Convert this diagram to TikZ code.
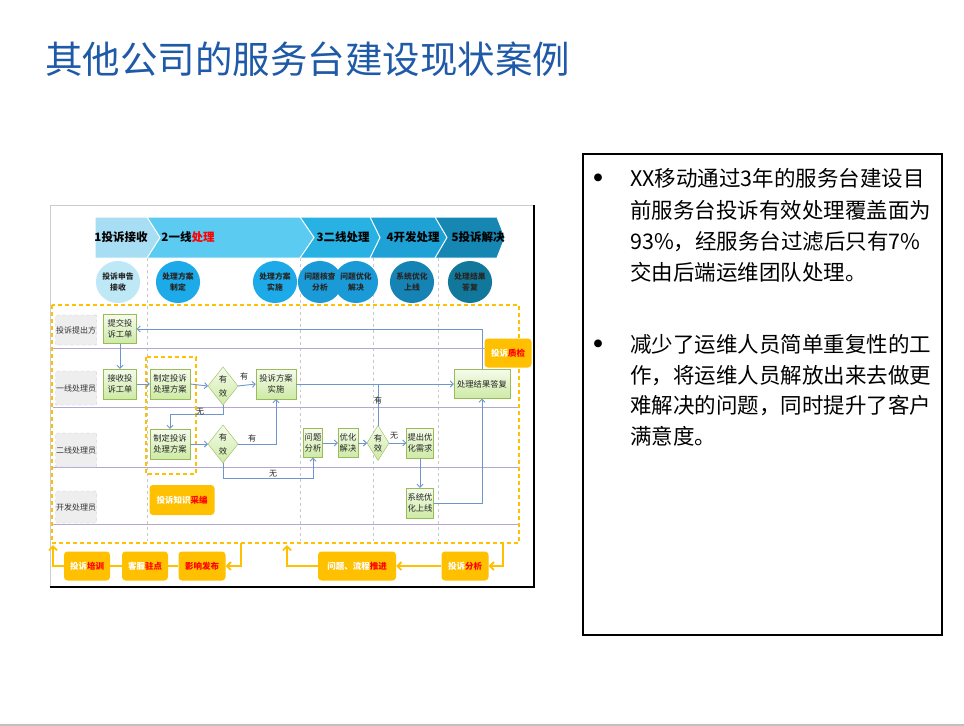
\documentclass[tikz,border=0pt]{standalone}
\usepackage{fontspec}
\setmainfont{Noto Sans CJK SC}
\usetikzlibrary{arrows.meta,shapes.geometric,calc}
\definecolor{titleblue}{RGB}{30,90,168}
\definecolor{flowblue}{RGB}{110,150,205}
\definecolor{ora}{RGB}{255,192,0}
\definecolor{lanepurple}{RGB}{180,165,210}
\definecolor{procedge}{RGB}{155,187,89}
\definecolor{proctop}{RGB}{245,251,235}
\definecolor{procbot}{RGB}{205,234,165}
\definecolor{chA}{RGB}{168,222,243}
\definecolor{chB}{RGB}{92,203,241}
\definecolor{chC}{RGB}{40,178,228}
\definecolor{chD}{RGB}{30,162,214}
\definecolor{chE}{RGB}{22,134,178}
\definecolor{cA}{RGB}{190,232,246}
\definecolor{cB}{RGB}{28,170,232}
\definecolor{cC}{RGB}{26,154,214}
\definecolor{cD}{RGB}{22,131,181}
\definecolor{cE}{RGB}{18,120,155}
\definecolor{vred}{RGB}{255,0,0}
\definecolor{gridgray}{RGB}{200,200,200}
\definecolor{lanefill}{RGB}{238,238,238}
\definecolor{laneedge}{RGB}{200,188,222}
\definecolor{pageline}{RGB}{192,196,184}
\tikzset{
  proc/.style={draw=procedge, top color=proctop, bottom color=procbot, inner sep=0pt,
    align=center, font=\fontsize{8.3bp}{10.5bp}\selectfont, text=black!85},
  dia/.style={diamond, draw=procedge, top color=proctop, bottom color=procbot, inner sep=0pt,
    outer sep=0pt, align=center, font=\fontsize{8.3bp}{10bp}\selectfont, text=black!85},
  lanebox/.style={draw=laneedge, dashed, fill=lanefill, rounded corners=1bp, inner sep=0pt,
    minimum width=41bp, font=\fontsize{8bp}{10bp}\selectfont, text=black!80},
  obox/.style={fill=ora, rounded corners=3.5bp, inner sep=0pt, text=white,
    font=\bfseries\fontsize{8.5bp}{10bp}\selectfont},
  phase/.style={ellipse, inner sep=0pt, minimum width=33bp, minimum height=42bp, align=center,
    font=\bfseries\fontsize{7.8bp}{10.5bp}\selectfont, text=black!85},
  hdr/.style={font=\bfseries\fontsize{11.5bp}{13bp}\selectfont, text=black, inner sep=0pt},
  lbl/.style={font=\fontsize{8bp}{9bp}\selectfont, text=black!85, inner sep=0pt},
  flow/.style={draw=flowblue, line width=0.9bp, -{Straight Barb[length=3bp,width=6bp]}},
  flowline/.style={draw=flowblue, line width=0.9bp},
  oflow/.style={draw=ora, line width=1.8bp, -{Straight Barb[length=4bp,width=8bp]}},
  oline/.style={draw=ora, line width=1.8bp},
  rt/.style={anchor=base west, inner sep=0pt, font=\fontsize{21.5bp}{26bp}\selectfont, text=black},
  bul/.style={anchor=base, inner sep=0pt, font=\bfseries\fontsize{28bp}{30bp}\selectfont, text=black}
}
\begin{document}
\begin{tikzpicture}[x=1bp,y=-1bp]
\useasboundingbox (0,0) rectangle (964,726);
\fill[white] (0,0) rectangle (964,726);
% title
\node[anchor=base west, inner sep=0pt, text=titleblue, font=\fontsize{37.5bp}{40bp}\selectfont] (title) at (45,74) {其他公司的服务台建设现状案例};
% page bottom line
\draw[pageline, line width=1.5bp] (0,725) -- (964,725);

% ---------------- right text box
\draw[line width=2.5bp] (583,154) rectangle (942,635);
\node[bul] (b1) at (598,189) {•};
\node[rt] (t1) at (630,187) {XX移动通过3年的服务台建设目};
\node[rt] (t2) at (630,218) {前服务台投诉有效处理覆盖面为};
\node[rt] (t3) at (630,249) {93\%，经服务台过滤后只有7\%};
\node[rt] (t4) at (630,280) {交由后端运维团队处理。};
\node[bul] (b2) at (598,354) {•};
\node[rt] (t5) at (630,352) {减少了运维人员简单重复性的工};
\node[rt] (t6) at (630,383) {作，将运维人员解放出来去做更};
\node[rt] (t7) at (630,413) {难解决的问题，同时提升了客户};
\node[rt] (t8) at (630,444) {满意度。};

% ---------------- diagram frame
\draw[gray!40, line width=0.5bp] (50,205) rectangle (534,587);
\draw[black, line width=1.2bp] (534,205) -- (534,587) -- (50,587);

% chevron band
\fill[chE, draw=white, line width=1bp] (435,217) -- (497,217) -- (505,237.5) -- (497,258) -- (435,258) -- cycle;
\fill[chD, draw=white, line width=1bp] (370,217) -- (435,217) -- (447,237.5) -- (435,258) -- (370,258) -- cycle;
\fill[chC, draw=white, line width=1bp] (300,217) -- (370,217) -- (380,237.5) -- (370,258) -- (300,258) -- cycle;
\fill[chB, draw=white, line width=1bp] (147,217) -- (300,217) -- (314,237.5) -- (300,258) -- (147,258) -- cycle;
\fill[chA, draw=white, line width=1bp] (95,217) -- (147,217) -- (160,237.5) -- (147,258) -- (95,258) -- cycle;
\node[hdr] (h1) at (121,237.5) {1投诉接收};
\node[hdr] (h2) at (188,237.5) {2一线\textcolor{vred}{处理}};
\node[hdr] (h3) at (343,237.5) {3二线处理};
\node[hdr] (h4) at (413,237.5) {4开发处理};
\node[hdr] (h5) at (478,237.5) {5投诉解决};

% phase grid (dashed verticals)
\foreach \gx in {147,300,373,438}
  \draw[gridgray, dashed, line width=0.6bp] (\gx,258) -- (\gx,541);

% phase circles
\node[phase, fill=cA] (c1) at (118,282) {投诉申告\\接收};
\node[phase, fill=cB] (c2) at (178,282) {处理方案\\制定};
\node[phase, fill=cB] (c3) at (275,282) {处理方案\\实施};
\node[phase, fill=cC] (c4) at (320,282) {问题核查\\分析};
\node[phase, fill=cC] (c5) at (356,282) {问题优化\\解决};
\node[phase, fill=cD] (c6) at (412,282) {系统优化\\上线};
\node[phase, fill=cE] (c7) at (470,282) {处理结果\\答复};

% lanes
\foreach \ly in {348,407,467,524}
  \draw[lanepurple, line width=0.9bp] (53,\ly) -- (519,\ly);
\node[lanebox, minimum height=30bp] (L1) at (76,330) {投诉提出方};
\node[lanebox, minimum height=34bp] (L2) at (76,388) {一线处理员};
\node[lanebox, minimum height=34bp] (L3) at (76,450) {二线处理员};
\node[lanebox, minimum height=32bp] (L4) at (76,507) {开发处理员};

% orange dashed frames
\draw[ora, line width=1.3bp, dash pattern=on 4bp off 3bp] (52,305) rectangle (519,543);
\draw[ora, line width=1.3bp, dash pattern=on 4bp off 3bp] (146,357) rectangle (196,474);

% process boxes
\node[proc, minimum width=33bp, minimum height=29bp] (sub) at (120,329) {提交投\\诉工单};
\node[proc, minimum width=33bp, minimum height=30bp] (rcv) at (120,384) {接收投\\诉工单};
\node[proc, minimum width=40bp, minimum height=30bp] (plan1) at (170,384) {制定投诉\\处理方案};
\node[dia, aspect=0.75, minimum width=30bp, minimum height=38bp] (d1) at (223,386) {有\\[4bp]效};
\node[proc, minimum width=40bp, minimum height=30bp] (impl) at (276,384) {投诉方案\\实施};
\node[proc, minimum width=56bp, minimum height=29bp] (res) at (482,384) {处理结果答复};
\node[proc, minimum width=40bp, minimum height=30bp] (plan2) at (170,444) {制定投诉\\处理方案};
\node[dia, aspect=0.75, minimum width=30bp, minimum height=38bp] (d2) at (223,444) {有\\[4bp]效};
\node[proc, minimum width=19bp, minimum height=29bp] (ana) at (313,443) {问题\\分析};
\node[proc, minimum width=20bp, minimum height=29bp] (opt) at (348,443) {优化\\解决};
\node[dia, aspect=0.6, minimum width=22bp, minimum height=35bp] (d3) at (378,443) {有\\效};
\node[proc, minimum width=27bp, minimum height=30bp] (req) at (420,443) {提出优\\化需求};
\node[proc, minimum width=27bp, minimum height=30bp] (sys) at (420,503) {系统优\\化上线};

% orange boxes
\node[obox, minimum width=47bp, minimum height=29bp] (qc) at (508,353) {投诉\textcolor{vred}{质检}};
\node[obox, minimum width=65bp, minimum height=30bp] (kb) at (182,500) {投诉知识\textcolor{vred}{采编}};
\node[obox, minimum width=46bp, minimum height=29bp] (otr) at (87,566) {投诉\textcolor{vred}{培训}};
\node[obox, minimum width=46bp, minimum height=29bp] (okf) at (145,566) {客服\textcolor{vred}{驻点}};
\node[obox, minimum width=47bp, minimum height=29bp] (oimp) at (202,566) {\textcolor{vred}{影响发布}};
\node[obox, minimum width=78bp, minimum height=29bp] (opush) at (357,566) {问题、流程\textcolor{vred}{推进}};
\node[obox, minimum width=47bp, minimum height=29bp] (oan) at (465,566) {投诉\textcolor{vred}{分析}};

% blue connectors
\coordinate (w1) at (170,414);
\coordinate (w2) at (300,478);
\draw[flow] (sub.south) -- (rcv.north);
\draw[flow] (res.north) |- (sub.east);
\draw[flow] (rcv.east) -- (plan1.west);
\draw[flow] (plan1.east) -- (d1.west);
\draw[flow] (d1.east) -- (impl.west);
\draw[flow] (d1.south) |- (w1) -- (plan2.north);
\draw[flow] (plan2.east) -- (d2.west);
\draw[flow] (d2.east) -| (impl.south);
\draw[flow] (d2.south) -- (d2.south |- w2) -| (ana.south);
\draw[flow] (impl.east) -- (res.west);
\draw[flow] (ana.east) -- (opt.west);
\draw[flow] (opt.east) -- (d3.west);
\draw[flowline] (d3.north) -- (d3.north |- impl.east);
\draw[flow] (d3.east) -- (req.west);
\draw[flow] (req.south) -- (sys.north);
\draw[flow] (sys.east) -| (res.south);

% connector labels
\node[lbl] (lb1) at (244,376) {有};
\node[lbl] (lb2) at (200,412) {无};
\node[lbl] (lb3) at (252,438) {有};
\node[lbl] (lb4) at (273,474) {无};
\node[lbl] (lb5) at (378,400) {有};
\node[lbl] (lb6) at (394,436) {无};

% orange connectors
\coordinate (oA) at (503,543);
\coordinate (oB) at (287,545);
\coordinate (oC) at (241,543);
\coordinate (oD) at (53,545);
\draw[oflow] (oA) |- (oan.east);
\draw[oflow] (oan.west) -- (opush.east);
\draw[oflow] (opush.west) -| (oB);
\draw[oflow] (oC) |- (oimp.east);
\draw[oline] (oimp.west) -- (okf.east);
\draw[oline] (okf.west) -- (otr.east);
\draw[oflow] (otr.west) -| (oD);
\end{tikzpicture}
\end{document}
